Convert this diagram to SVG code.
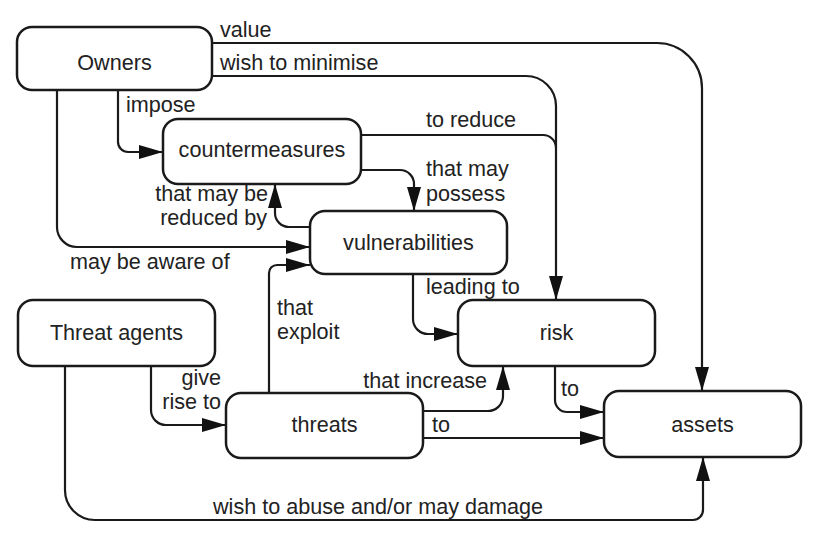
<svg xmlns="http://www.w3.org/2000/svg" width="817" height="546" viewBox="0 0 817 546">
<defs>
<marker id="arr" markerUnits="userSpaceOnUse" markerWidth="24" markerHeight="14" refX="24" refY="7" orient="auto">
<path d="M0,0 L24,7 L0,14 z" fill="#111"/>
</marker>
</defs>
<style>
.box{fill:#fff;stroke:#1a1a1a;stroke-width:2.5}
.c{fill:none;stroke:#1a1a1a;stroke-width:2.2}
.a{marker-end:url(#arr)}
text{font-family:"Liberation Sans",Arial,sans-serif;font-size:21.6px;fill:#222}
.m{text-anchor:middle}
.e{text-anchor:end}
</style>
<rect width="817" height="546" fill="#fff"/>
<g id="connectors">
<path class="c a" d="M212,43 H657 A45,45 0 0 1 702,88 V391"/>
<path class="c a" d="M212,76 H526 A30,30 0 0 1 556,106 V300"/>
<path class="c" d="M361,135 H543 A13,13 0 0 1 556,148"/>
<path class="c a" d="M118,90 V142 A10,10 0 0 0 128,152 H163"/>
<path class="c a" d="M57,90 V227 A20,20 0 0 0 77,247 H310"/>
<path class="c a" d="M361,170 H400 A14,14 0 0 1 414,184 V211"/>
<path class="c a" d="M310,227 H289 A14,14 0 0 1 275,213 V184"/>
<path class="c a" d="M269,393 V273 A8,8 0 0 1 277,265 H310"/>
<path class="c a" d="M413,274 V319 A15,15 0 0 0 428,334 H458"/>
<path class="c a" d="M151,366 V410 A15,15 0 0 0 166,425 H226"/>
<path class="c a" d="M65,366 V490 A30,30 0 0 0 95,520 H693 A10,10 0 0 0 703,510 V457"/>
<path class="c a" d="M423,411 H488 A15,15 0 0 0 503,396 V366"/>
<path class="c a" d="M423,438 H604"/>
<path class="c a" d="M555,366 V400 A12,12 0 0 0 567,412 H604"/>
<text x="220" y="37">value</text>
<text x="220" y="70">wish to minimise</text>
<text x="126" y="112">impose</text>
<text x="426" y="127">to reduce</text>
<text x="426" y="176">that may</text>
<text x="426" y="201">possess</text>
<text class="e" x="268" y="201">that may be</text>
<text class="e" x="267" y="225">reduced by</text>
<text x="70" y="269">may be aware of</text>
<text x="426" y="294">leading to</text>
<text x="277" y="315">that</text>
<text x="277" y="339">exploit</text>
<text class="e" x="221" y="385">give</text>
<text class="e" x="221" y="409">rise to</text>
<text class="e" x="487" y="388">that increase</text>
<text x="432" y="432">to</text>
<text x="561" y="396">to</text>
<text x="213" y="514">wish to abuse and/or may damage</text>
</g>
<g id="owners"><rect class="box" x="17" y="27" width="195" height="63" rx="15"/><text class="m" x="114.5" y="70">Owners</text></g>
<g id="countermeasures"><rect class="box" x="163" y="119" width="198" height="65" rx="15"/><text class="m" x="262" y="157">countermeasures</text></g>
<g id="vulnerabilities"><rect class="box" x="310" y="211" width="197" height="63" rx="15"/><text class="m" x="408.5" y="250">vulnerabilities</text></g>
<g id="risk"><rect class="box" x="458" y="300" width="197" height="66" rx="15"/><text class="m" x="556.5" y="340">risk</text></g>
<g id="assets"><rect class="box" x="604" y="391" width="197" height="66" rx="15"/><text class="m" x="702.5" y="432">assets</text></g>
<g id="threat-agents"><rect class="box" x="18" y="300" width="197" height="66" rx="15"/><text class="m" x="116.5" y="340">Threat agents</text></g>
<g id="threats"><rect class="box" x="226" y="393" width="197" height="65" rx="15"/><text class="m" x="324.5" y="432">threats</text></g>
</svg>
